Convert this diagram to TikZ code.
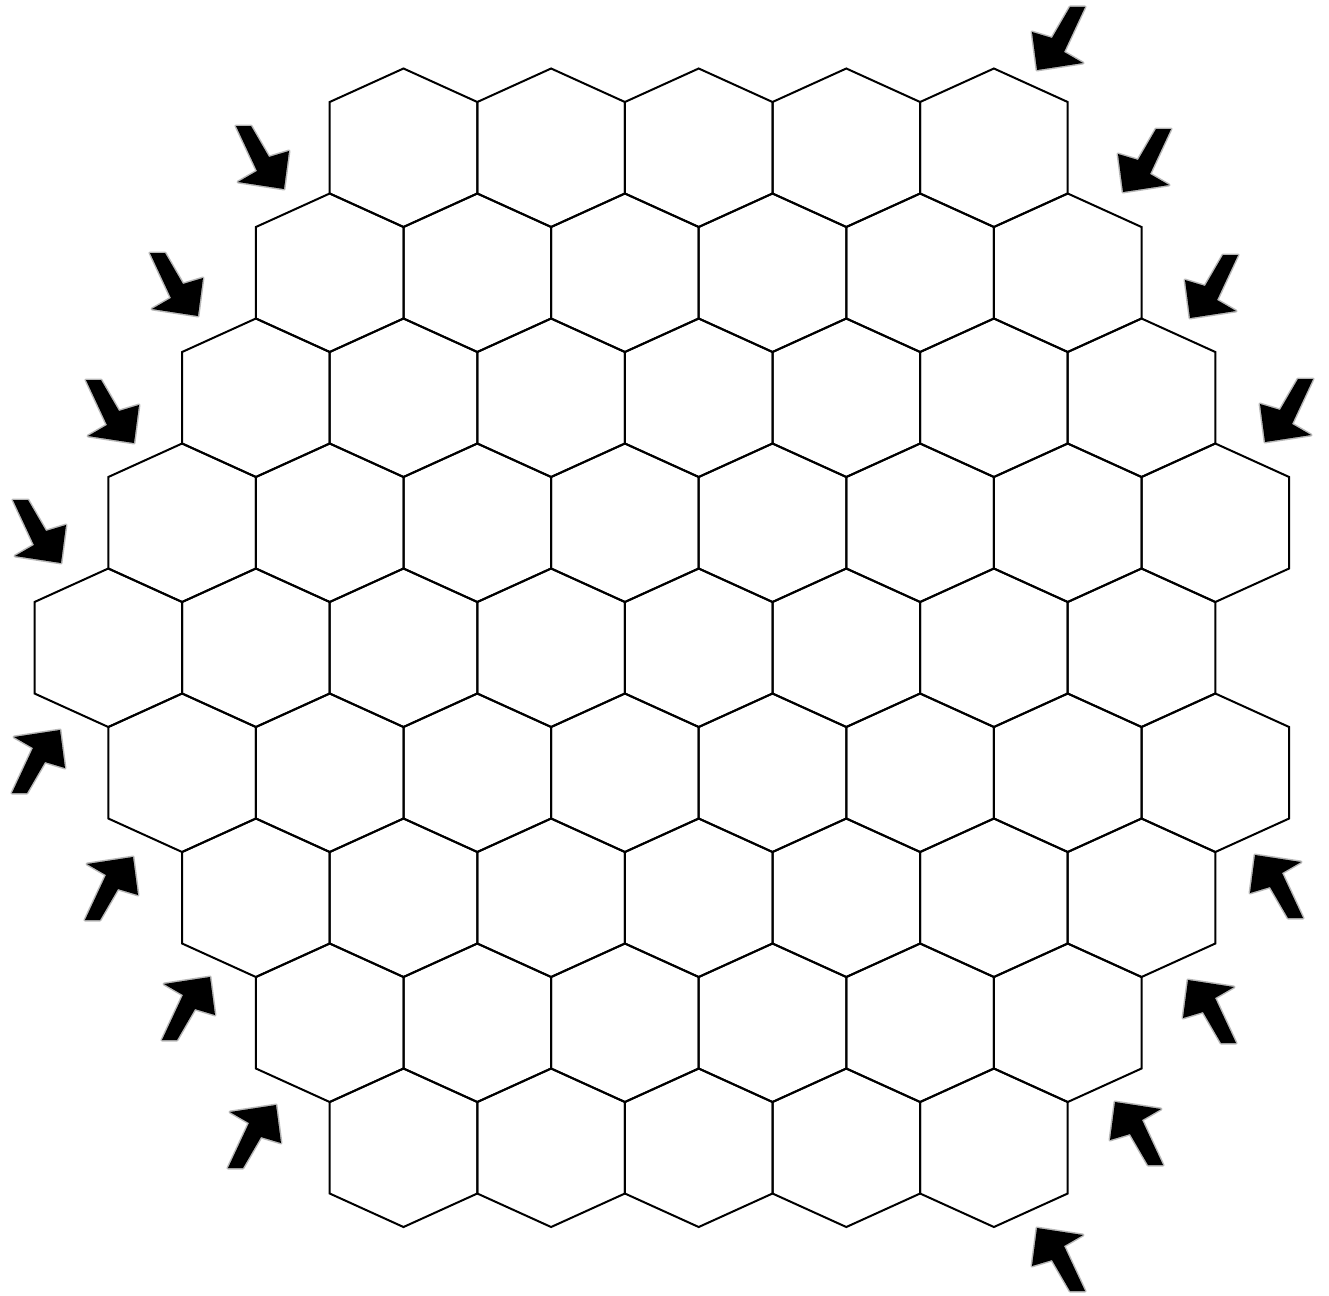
\documentclass[tikz,border=0pt]{standalone}
\begin{document}
\begin{tikzpicture}[x=1pt,y=-1pt,
  hexline/.style={line width=2pt, line join=miter},
  arrowfill/.style={fill=black, preaction={draw=black!28, line width=3pt, line join=round}},
  pics/barrow/.style={code={
    \fill[arrowfill] (0,0) -- (5,-38) -- (-15,-32) -- (-33,-63) -- (-48,-63) -- (-27,-18) -- (-46,-7) -- cycle;
  }}]
\useasboundingbox (0,0) rectangle (1329,1295);
% hex board
\foreach \r/\k/\n in {0/4/5,1/3/6,2/2/7,3/1/8,4/0/8,5/1/8,6/2/7,7/3/6,8/4/5}{
  \foreach \i in {1,...,\n}{
    \pgfmathsetmacro\L{34.5+(\k+2*(\i-1))*73.8}
    \pgfmathsetmacro\T{68.5+125*\r}
    \draw[hexline] (\L+73.8,\T) -- (\L+147.6,\T+33.5) -- (\L+147.6,\T+125) -- (\L+73.8,\T+158.5) -- (\L,\T+125) -- (\L,\T+33.5) -- cycle;
  }
}
% arrows pointing down-right
\foreach \x/\y in {284/189,198/316,134/443,61/563}
  \pic at (\x,\y) {barrow};
% arrows pointing up-right
\foreach \x/\y in {60/730,133/857,210/977,276/1105}
  \pic[yscale=-1] at (\x,\y) {barrow};
% arrows pointing down-left
\foreach \x/\y in {1037/70,1123/192,1190/318,1265/442}
  \pic[xscale=-1] at (\x,\y) {barrow};
% arrows pointing up-left
\foreach \x/\y in {1255/855,1188/980,1115/1102,1037/1228}
  \pic[xscale=-1,yscale=-1] at (\x,\y) {barrow};
\end{tikzpicture}
\end{document}
